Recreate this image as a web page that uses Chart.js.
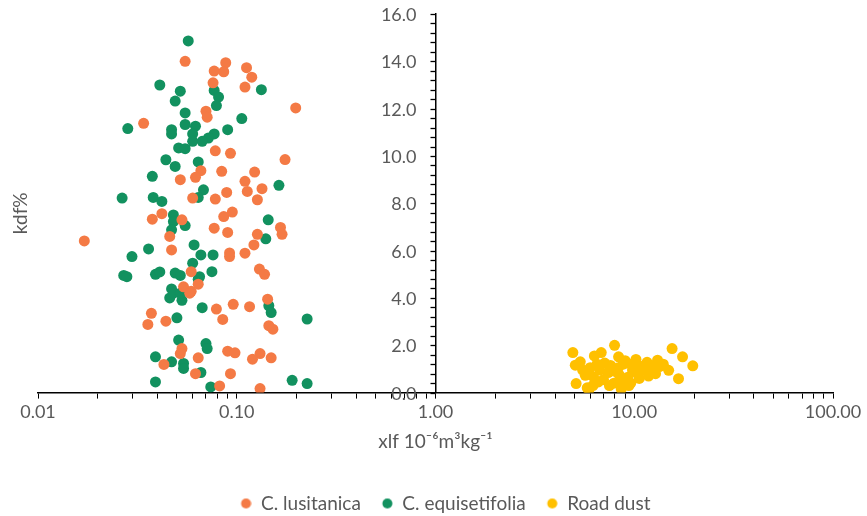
<!DOCTYPE html>
<html>
<head>
<meta charset="utf-8">
<script src="https://cdn.jsdelivr.net/npm/chart.js@4.4.1/dist/chart.umd.min.js"></script>
<style>
  html, body { margin: 0; padding: 0; background: #fff; }
  #wrap { width: 867px; height: 516px; position: relative; }
</style>
</head>
<body>
<div id="wrap"><canvas id="scatterChart"></canvas></div>
<script>
// xlf / kdf% pairs per sample group
let lusitanica = [
    [0.055,14.0],[0.088,13.94],[0.077,13.59],[0.086,13.56],[0.112,13.73],[0.119,13.33],
    [0.076,13.09],[0.110,12.91],[0.198,12.03],[0.070,11.89],[0.071,11.64],[0.034,11.38],
    [0.078,10.22],[0.093,10.11],[0.175,9.85],[0.066,9.38],[0.062,9.10],[0.052,9.0],
    [0.084,9.35],[0.123,9.32],[0.110,8.93],[0.134,8.62],[0.113,8.50],[0.127,8.15],
    [0.060,8.22],[0.078,8.18],[0.089,8.46],[0.086,7.44],[0.095,7.63],[0.0376,7.33],
    [0.042,7.56],[0.053,7.30],[0.077,6.95],[0.090,6.77],[0.166,6.98],[0.169,6.69],
    [0.127,6.69],[0.122,6.24],[0.110,5.89],[0.0171,6.41],[0.046,6.60],[0.047,6.03],
    [0.092,5.90],[0.092,5.75],[0.059,5.11],[0.130,5.22],[0.138,5.0],[0.054,4.47],
    [0.059,4.28],[0.058,4.2],[0.064,4.58],[0.079,3.53],[0.085,3.09],[0.096,3.73],
    [0.116,3.63],[0.143,3.95],[0.145,2.83],[0.152,2.68],[0.0372,3.35],[0.0357,2.88],
    [0.044,3.02],[0.053,1.86],[0.052,1.65],[0.090,1.75],[0.098,1.68],[0.131,1.65],
    [0.120,1.41],[0.149,1.47],[0.064,1.47],[0.043,1.19],[0.062,0.80],[0.093,0.80],
    [0.082,0.28],[0.131,0.17]
]
let equisetifolia = [
    [0.057,14.86],[0.041,13.0],[0.133,12.8],[0.077,12.77],[0.081,12.49],[0.079,12.13],
    [0.052,12.74],[0.049,12.32],[0.055,11.82],[0.106,11.58],[0.0283,11.16],[0.055,11.33],
    [0.062,11.26],[0.047,11.11],[0.047,10.93],[0.060,10.93],[0.090,11.11],[0.077,10.93],
    [0.072,10.76],[0.067,10.62],[0.060,10.62],[0.051,10.34],[0.055,10.31],[0.044,9.84],
    [0.049,9.56],[0.064,9.75],[0.0376,9.14],[0.163,8.76],[0.0265,8.22],[0.038,8.25],
    [0.042,8.08],[0.068,8.57],[0.064,8.25],[0.048,7.51],[0.048,7.23],[0.055,7.06],
    [0.047,6.88],[0.144,7.30],[0.140,6.50],[0.036,6.07],[0.0297,5.75],[0.061,6.24],
    [0.066,5.82],[0.076,5.82],[0.060,5.47],[0.027,4.95],[0.028,4.9],[0.039,5.0],
    [0.041,5.1],[0.049,5.05],[0.052,4.95],[0.065,4.9],[0.075,5.11],[0.064,4.79],
    [0.047,4.38],[0.046,4.0],[0.048,4.2],[0.053,3.9],[0.052,4.2],[0.050,3.16],
    [0.067,3.59],[0.145,3.67],[0.149,3.38],[0.226,3.11],[0.051,2.22],[0.070,2.07],
    [0.071,1.86],[0.039,1.51],[0.047,1.30],[0.054,1.23],[0.054,1.02],[0.066,0.85],
    [0.039,0.45],[0.074,0.24],[0.19,0.52],[0.226,0.38]
]
let roadDust = [
    [4.91,1.69],[6.82,1.69],[7.96,2.0],[8.34,1.51],[15.5,1.86],[17.5,1.51],[19.7,1.13],
    [16.7,0.59],[14.9,0.94],[13.1,1.37],[12.0,1.16],[5.05,1.16],[5.35,1.30],[5.1,0.38],
    [5.9,0.10],[6.24,0.66],[5.67,0.73],[7.1,1.25],[7.6,1.15],[8.3,1.05],[9.2,1.25],
    [10.0,1.2],[10.9,1.1],[11.6,1.28],[6.7,0.95],[7.4,0.85],[8.4,0.75],[9.3,0.65],
    [10.3,0.85],[11.2,0.95],[12.3,1.0],[13.4,1.1],[6.6,0.45],[7.9,0.4],[8.8,0.5],
    [9.6,0.4],[9.4,0.3],[6.0,1.05],[6.5,1.2],[5.5,0.95],[7.0,0.55],[8.0,0.9],
    [8.8,1.2],[9.8,0.95],[10.6,0.6],[11.8,0.7],[12.8,0.8],[14.0,1.2],[6.2,0.3],
    [5.8,0.2],[7.5,0.3],[8.6,0.15],[9.0,1.35],[10.2,1.4],[6.3,1.55]
]

let seriesNames = ['C. lusitanica', 'C. equisetifolia', 'Road dust']
let seriesColors = ['#F47A45', '#12915F', '#FFC000']

// x ticks: 1..9 x 10^k from 0.01 to 100, labels on the decades only
let xDecades = [0.01, 0.1, 1, 10, 100]
// y ticks every 0.4, labelled every 2.0; the y axis crosses x at 1
let yMax = 16
let yMinorStep = 0.4
let yLabelStep = 2
let yCross = 1

let FONT = 'Lato, "Liberation Sans", sans-serif'
let TEXT = '#595959'

function toPoints(arr) {
    return arr.map(p => ({ x: p[0], y: p[1] }))
}

// legend marker: a dot on the right of a wider blank box, gives the item spacing
let MARK_W = 31
function legendDot(color) {
    let c = document.createElement('canvas')
    c.width = MARK_W
    c.height = 12
    let g = c.getContext('2d')
    g.fillStyle = color
    g.beginPath()
    g.arc(MARK_W - 5.5, 6, 5, 0, Math.PI * 2)
    g.fill()
    return c
}
let legendDots = seriesColors.map(legendDot)

// y tick marks + labels to the left of the crossing axis, and the "kdf%" title
let yAxisPlugin = {
    id: 'yAxisLeft',
    afterDatasetsDraw(chart) {
        let ctx = chart.ctx
        let area = chart.chartArea
        let ys = chart.scales.y
        let x0 = chart.scales.x.getPixelForValue(yCross)
        ctx.save()
        ctx.strokeStyle = '#000'
        ctx.lineWidth = 1.3
        ctx.fillStyle = TEXT
        ctx.font = '18px ' + FONT
        ctx.textAlign = 'right'
        ctx.textBaseline = 'middle'
        for (let i = 0; i * yMinorStep <= yMax + 1e-9; i++) {
            let v = Math.round(i * yMinorStep * 10) / 10
            let py = Math.round(ys.getPixelForValue(v)) + 0.5
            ctx.beginPath()
            ctx.moveTo(x0 - 5, py)
            ctx.lineTo(x0, py)
            ctx.stroke()
            if (Math.abs(v / yLabelStep - Math.round(v / yLabelStep)) < 1e-6) {
                ctx.fillText(v.toFixed(1), x0 - 19, py + 1)
            }
        }

        ctx.translate(21, (area.top + area.bottom) / 2 + 10)
        ctx.rotate(-Math.PI / 2)
        ctx.font = '19px ' + FONT
        ctx.textAlign = 'center'
        ctx.fillText('kdf%', 0, 0)
        ctx.restore()
    }
}

let datasets = [lusitanica, equisetifolia, roadDust].map((arr, i) => ({
    label: seriesNames[i],
    data: toPoints(arr),
    backgroundColor: seriesColors[i],
    borderColor: seriesColors[i],
    borderWidth: 0,
    pointRadius: 5.5,
    pointHoverRadius: 5.5
}))

let config = {
    type: 'scatter',
    data: { datasets: datasets },
    plugins: [yAxisPlugin],
    options: {
        responsive: true,
        maintainAspectRatio: false,
        animation: false,
        layout: { padding: { left: 38, right: 34, top: 14, bottom: -7 } },
        plugins: {
            legend: {
                position: 'bottom',
                labels: {
                    usePointStyle: true,
                    pointStyleWidth: MARK_W,
                    boxHeight: 10,
                    padding: 1,
                    color: TEXT,
                    font: { family: FONT, size: 19 },
                    generateLabels(chart) {
                        let items = Chart.defaults.plugins.legend.labels.generateLabels(chart)
                        items.forEach((it, i) => { it.pointStyle = legendDots[i] })
                        return items
                    }
                }
            },
            tooltip: { enabled: false }
        },
        scales: {
            x: {
                type: 'logarithmic',
                min: 0.01,
                max: 100,
                afterBuildTicks(scale) {
                    let ticks = []
                    xDecades.forEach((d, k) => {
                        let n = k === xDecades.length - 1 ? 1 : 9
                        for (let m = 1; m <= n; m++) {
                            ticks.push({ value: +(m * d).toPrecision(3) })
                        }
                    })
                    scale.ticks = ticks
                },
                ticks: {
                    autoSkip: false,
                    maxRotation: 0,
                    color: TEXT,
                    font: { family: FONT, size: 18 },
                    padding: 3,
                    callback: function (v) {
                        return xDecades.some(d => Math.abs(d - v) < d * 1e-6) ? v.toFixed(2) : ''
                    }
                },
                grid: {
                    display: true,
                    drawOnChartArea: false,
                    drawTicks: true,
                    tickLength: 6,
                    color: '#000'
                },
                border: { display: true, color: '#000', width: 1.5 },
                title: {
                    display: true,
                    text: 'xlf 10⁻⁶m³kg⁻¹',
                    color: TEXT,
                    font: { family: FONT, size: 19 },
                    padding: { top: 4, bottom: 40 }
                }
            },
            y: {
                type: 'linear',
                position: { x: yCross },
                min: 0,
                max: yMax,
                ticks: { display: false },
                grid: { display: false },
                border: { display: true, color: '#000', width: 1.5 }
            }
        }
    }
}

new Chart(document.getElementById('scatterChart'), config)
</script>
</body>
</html>
